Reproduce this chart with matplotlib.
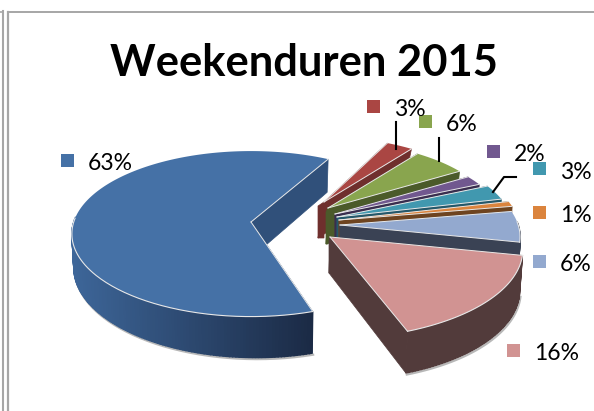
import numpy as np
import matplotlib
matplotlib.use("Agg")
import matplotlib.pyplot as plt
from matplotlib.patches import Polygon, Rectangle

plt.rcParams['font.family'] = ['Lato', 'DejaVu Sans']

title = "Weekenduren 2015"
values = [63, 3, 6, 2, 3, 1, 6, 16]

# styles, same order as values
topColors = ['#4571A6', '#AA4643', '#89A54E', '#71588F', '#4198AF', '#DB843D', '#93A9CF', '#D19392']
wallColors = ['#30507A', '#6F2F2D', '#4B5A2A', '#3A2D4E', '#24586A', '#6E4420', '#3A4254', '#523B3B']

# layout in pixels: explosion of every slice, and where its legend key sits
center = (251, 222)
explodeX = [0, 73, 77, 84, 86, 88, 89, 79]
explodeY = [0, -20, -14, -8, -5, -2, 3, 15]
scales = [.985, .9, .92, .93, .97, 1, .99, 1.06]
wallShift = [0, -6, -2, 0, 0, 0, 0, -1]
rotate = [-3.1, 0, 0, 0, 0, 0, 0, 0]
keyX = [67, 373, 425, 493, 539, 539, 539, 513]
keyY = [160, 106, 121, 151, 169, 212, 261, 350]

RX = 180
RY = 82.3
PERSP = .143


def project(theta, cx, cy, scale):
    s = 1 + PERSP * np.sin(theta)
    return cx + scale * RX * np.cos(theta) / s, cy - scale * RY * np.sin(theta) / s


def extrude(x, y, theta, shift):
    depth = 36 - 5 * np.sin(theta) + 3 * np.cos(theta)
    return x + shift - 2 * np.cos(theta), y + depth


def mix(a, b, t):
    return tuple(a[i] + (b[i] - a[i]) * t for i in range(3))


fig = plt.figure(figsize=(5.94, 4.11), dpi=100)
ax = fig.add_axes([0, 0, 1, 1])
ax.set_xlim(0, 594)
ax.set_ylim(411, 0)
ax.axis('off')

# frame lines of the screenshot
ax.plot([2.5, 2.5], [11, 411], color='#a6a6a6', lw=1.5)
ax.plot([0, 3], [12, 12], color='#a6a6a6', lw=1.2)
ax.plot([8, 8], [12.5, 411], color='#a6a6a6', lw=1.6)
ax.plot([8, 594], [12.5, 12.5], color='#a6a6a6', lw=1.4)

ax.text(304, 63.5, title, fontsize=31.3, fontweight='bold', ha='center', va='center', color='black')

start = np.deg2rad(-69.4)
angle = start
for i, v in enumerate(values):
    sweep = np.deg2rad(v * 3.6)
    first = angle + np.deg2rad(rotate[i])
    thetas = np.linspace(first, first - sweep, max(int(v * 4), 6))
    angle -= sweep
    cx = center[0] + explodeX[i]
    cy = center[1] + explodeY[i]
    rx, ry = project(thetas, cx, cy, scales[i])
    bx, by = extrude(rx, ry, thetas, wallShift[i])
    ax0, ay0 = cx + wallShift[i], cy + 36
    front = np.sin(thetas) < .05

    # soft shadow below the wall
    if i in (0, 7, 1, 6):
        ax.plot(np.where(front, bx + 1, np.nan), np.where(front, by + 1.5, np.nan),
                color='#b8b8b8', lw=1.6, zorder=i * 3 + 1)

    # cut walls
    for k in (0, -1):
        ax.add_patch(Polygon([(cx, cy), (rx[k], ry[k]), (bx[k], by[k]), (ax0, ay0)],
                             fc=wallColors[i], ec=wallColors[i], lw=.5, zorder=i * 3 + 1))
    if wallShift[i] != 0:
        ax.add_patch(Polygon([(cx, cy), (ax0, cy + 4), (ax0, ay0), (cx, ay0)],
                             fc=wallColors[i], ec=wallColors[i], lw=.5, zorder=i * 3 + 1))
    # outer wall
    for k in range(len(thetas) - 1):
        if not front[k]:
            continue
        if i == 0:
            t = np.clip((rx[k] - 72) / 242, 0, 1)
            c = mix((.24, .40, .60), (.105, .165, .27), t)
        else:
            c = wallColors[i]
        ax.add_patch(Polygon([(rx[k], ry[k]), (rx[k + 1], ry[k + 1]), (bx[k + 1], by[k + 1]), (bx[k], by[k])],
                             fc=c, ec=c, lw=1, zorder=i * 3 + 1))

    # top surface
    pts = [(cx, cy)] + list(zip(rx, ry))
    ax.add_patch(Polygon(pts, closed=True, fc=topColors[i], ec='none', zorder=i * 3 + 2))
    ax.plot(np.where(front, rx, np.nan), np.where(front, ry, np.nan), color='#e8e8e8', lw=.8, zorder=i * 3 + 3)
    ax.plot([cx, rx[0]], [cy, ry[0]], color='#e8e8e8', lw=.7, zorder=i * 3 + 3)
    ax.plot([cx, rx[-1]], [cy, ry[-1]], color='#e8e8e8', lw=.7, zorder=i * 3 + 3)

    # legend key and percent label
    ax.add_patch(Rectangle((keyX[i] - 6.5, keyY[i] - 6.5), 13, 13, fc=topColors[i], ec='none', zorder=40))
    ax.text(keyX[i] + 21, keyY[i] + 3, f"{v}%", fontsize=16.5, ha='left', va='center', color='black', zorder=41)

# leader lines
ax.plot([396, 396], [122, 149], color='black', lw=1.5, zorder=39)
ax.plot([439, 439], [138, 161], color='black', lw=1.5, zorder=39)
ax.plot([516, 504, 493], [177, 177, 192], color='black', lw=1.5, zorder=39)

fig.savefig("out.png", dpi=100)
